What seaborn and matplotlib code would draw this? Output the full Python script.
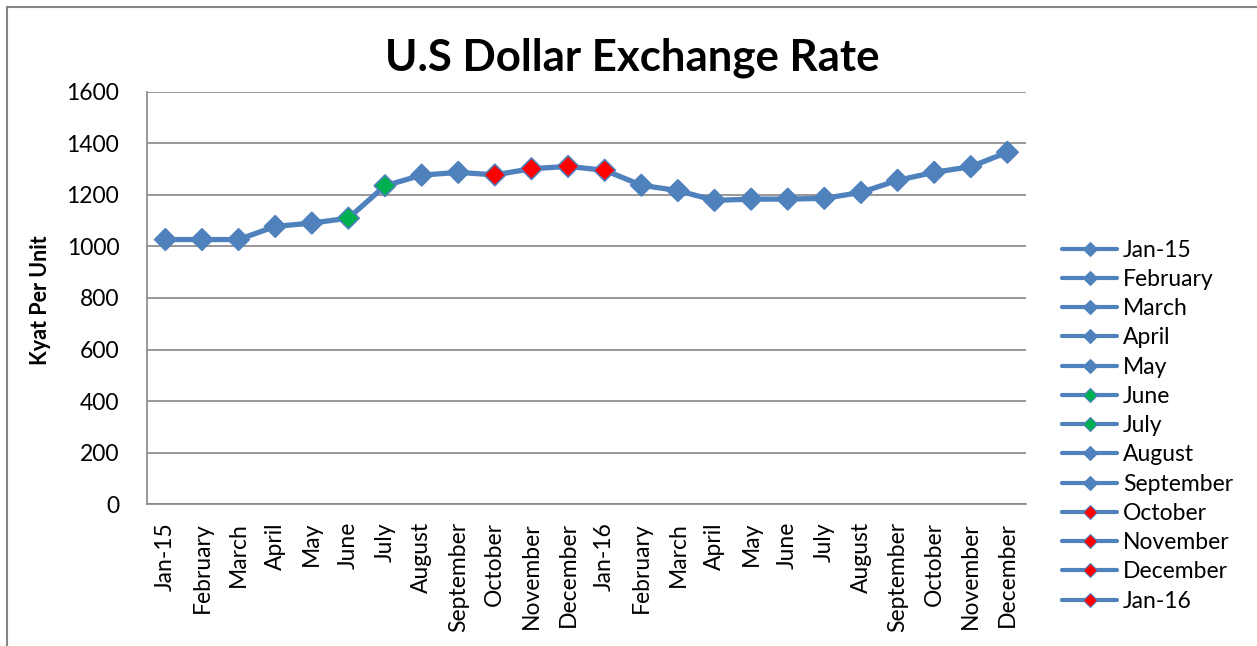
import matplotlib
matplotlib.use('Agg')
import matplotlib.pyplot as plt
import seaborn as sns
import pandas as pd
from matplotlib.lines import Line2D
from matplotlib.patches import Rectangle

# data
months = ['Jan-15', 'February', 'March', 'April', 'May', 'June', 'July', 'August',
          'September', 'October', 'November', 'December', 'Jan-16', 'February',
          'March', 'April', 'May', 'June', 'July', 'August', 'September',
          'October', 'November', 'December']
rate = [1027, 1027, 1027, 1078, 1091, 1110, 1236, 1277, 1288, 1278, 1302, 1311,
        1296, 1238, 1217, 1179, 1184, 1184, 1187, 1210, 1257, 1288, 1310, 1366]
marker_group = ['blue', 'blue', 'blue', 'blue', 'blue', 'green', 'green', 'blue',
                'blue', 'red', 'red', 'red', 'red', 'blue', 'blue', 'blue', 'blue',
                'blue', 'blue', 'blue', 'blue', 'blue', 'blue', 'blue']
legend_labels = months[:13]
yticks = [0, 200, 400, 600, 800, 1000, 1200, 1400, 1600]

line_blue = '#4F81BD'
palette = {'blue': '#4F81BD', 'green': '#00B050', 'red': '#FF0000'}
grid_gray = '#868686'

sns.set_style('white')
plt.rcParams['font.family'] = ['Lato', 'DejaVu Sans']
plt.rcParams['text.color'] = 'black'
plt.rcParams['xtick.color'] = 'black'
plt.rcParams['ytick.color'] = 'black'

df = pd.DataFrame({'pos': range(len(months)), 'rate': rate, 'group': marker_group})

fig = plt.figure(figsize=(12.57, 6.46), dpi=100)
ax = fig.add_axes([0.117, 0.2198, 0.699, 0.6378])

sns.lineplot(data=df, x='pos', y='rate', color=line_blue, lw=3.8, ax=ax,
             legend=False, zorder=3)
sns.scatterplot(data=df, x='pos', y='rate', hue='group', palette=palette,
                marker='D', s=120, edgecolor=line_blue, linewidth=1.2,
                ax=ax, legend=False, zorder=4)

ax.set_xlim(-0.5, len(months) - 0.5)
ax.set_ylim(0, 1600)
ax.set_yticks(yticks)
ax.set_xticks(range(len(months)))
ax.set_xticklabels(months, rotation=90, fontsize=16.5)
ax.tick_params(axis='y', labelsize=16.5, length=0, pad=20)
ax.tick_params(axis='x', length=0, pad=13)
ax.set_xlabel('')
ax.set_ylabel('')
ax.grid(axis='y', color=grid_gray, lw=1.2)
ax.set_axisbelow(True)
for s in ['top', 'right']:
    ax.spines[s].set_visible(False)
for s in ['left', 'bottom']:
    ax.spines[s].set_color(grid_gray)
    ax.spines[s].set_linewidth(1.2)

fig.text(0.503, 0.910, 'U.S Dollar Exchange Rate', ha='center', va='center',
         fontsize=31.5, fontweight='bold')
fig.text(0.032, 0.536, 'Kyat Per Unit', rotation=90, ha='center', va='center',
         fontsize=15.5, fontweight='bold')

handles = []
for lab, grp in zip(legend_labels, marker_group[:13]):
    handles.append(Line2D([0], [0], color=line_blue, lw=3, marker='D',
                          markersize=7.5, markerfacecolor=palette[grp],
                          markeredgecolor=line_blue, markeredgewidth=0.8))
fig.legend(handles, legend_labels, loc='upper left', bbox_to_anchor=(0.845, 0.629),
           frameon=False, fontsize=16.5, borderpad=0, borderaxespad=0,
           handlelength=2.4, handletextpad=0.25, labelspacing=0.36)

fig.patches.append(Rectangle((0.0056, -0.1), 1.2, 1.089, transform=fig.transFigure,
                             fill=False, edgecolor=grid_gray, lw=1.5))

fig.savefig('out.png', dpi=100)
